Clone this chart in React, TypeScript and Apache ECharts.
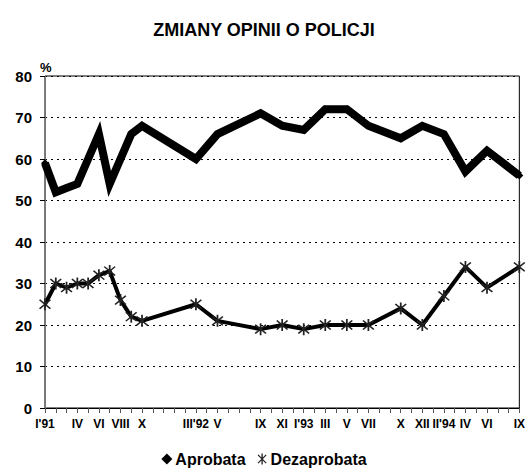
import React, { useEffect, useRef } from "react";
import * as echarts from "echarts";

// Monthly categories, Jan 1991 – Sep 1994
const months: string[] = [
  "1991-01","1991-02","1991-03","1991-04","1991-05","1991-06","1991-07","1991-08","1991-09","1991-10","1991-11","1991-12",
  "1992-01","1992-02","1992-03","1992-04","1992-05","1992-06","1992-07","1992-08","1992-09","1992-10","1992-11","1992-12",
  "1993-01","1993-02","1993-03","1993-04","1993-05","1993-06","1993-07","1993-08","1993-09","1993-10","1993-11","1993-12",
  "1994-01","1994-02","1994-03","1994-04","1994-05","1994-06","1994-07","1994-08","1994-09",
];

const monthLabels: string[] = [
  "I'91","","","IV","","VI","","VIII","","X","","",
  "","","III'92","","V","","","","IX","","XI","",
  "I'93","","III","","V","","VII","","","X","","XII",
  "","II'94","","IV","","VI","","","IX",
];

const aprobata: (number | null)[] = [
  59, 52, 53, 54, 60, 66, 54, 60, 66, 68, null, null,
  null, null, 60, null, 66, null, null, null, 71, null, 68, null,
  67, null, 72, null, 72, null, 68, null, null, 65, null, 68,
  null, 66, null, 57, null, 62, null, null, 56,
];

const dezaprobata: (number | null)[] = [
  25, 30, 29, 30, 30, 32, 33, 26, 22, 21, null, null,
  null, null, 25, null, 21, null, null, null, 19, null, 20, null,
  19, null, 20, null, 20, null, 20, null, null, 24, null, 20,
  null, 27, null, 34, null, 29, null, null, 34,
];

const yTicks = { min: 0, max: 80, interval: 10 };

const asterisk =
  "path://M-0.6,-5L0.6,-5L0.6,5L-0.6,5Z" +
  "M-4.1,-3.3L-3.3,-4.1L4.1,3.3L3.3,4.1Z" +
  "M3.3,-4.1L4.1,-3.3L-3.3,4.1L-4.1,3.3Z";

const FONT = "'Liberation Sans', Arial, sans-serif";

export default function App() {
  const ref = useRef<HTMLDivElement>(null);
  useEffect(() => {
    if (!ref.current) return;
    const chart = echarts.init(ref.current, undefined, { renderer: "svg" });
    chart.setOption({
      animation: false,
      backgroundColor: "#fff",
      title: {
        text: "ZMIANY OPINII O POLICJI",
        left: "center",
        top: 16,
        textStyle: { fontFamily: FONT, fontWeight: "bold", fontSize: 18, color: "#000" },
      },
      legend: {
        bottom: 0,
        left: "center",
        itemWidth: 11,
        itemHeight: 11,
        itemGap: 12,
        textStyle: { fontFamily: FONT, fontWeight: "bold", fontSize: 16, color: "#000", padding: [0, 0, 0, -2] },
        data: [
          { name: "Aprobata", icon: "diamond", itemStyle: { color: "#000" } },
          { name: "Dezaprobata", icon: asterisk, itemStyle: { color: "#222" } },
        ],
      },
      grid: {
        left: 45,
        right: 6,
        top: 76,
        bottom: 64,
        show: true,
        borderColor: "#000",
        borderWidth: 1,
      },
      xAxis: {
        type: "category",
        data: months,
        boundaryGap: false,
        axisLine: { lineStyle: { color: "#000", width: 1 } },
        axisTick: { show: true, interval: 0, length: 5, lineStyle: { color: "#555" } },
        axisLabel: {
          interval: 0,
          margin: 10,
          fontFamily: FONT,
          fontWeight: "bold",
          fontSize: 12,
          color: "#000",
          formatter: (_v: string, i: number) => monthLabels[i],
        },
        splitLine: { show: false },
      },
      yAxis: {
        type: "value",
        min: yTicks.min,
        max: yTicks.max,
        interval: yTicks.interval,
        name: "%",
        nameLocation: "end",
        nameGap: 2,
        nameTextStyle: { fontFamily: FONT, fontWeight: "bold", fontSize: 13, color: "#000", align: "left", padding: [0, 0, 0, -5] },
        axisLine: { show: true, lineStyle: { color: "#777", width: 1 } },
        axisTick: { show: true, length: 5, lineStyle: { color: "#000" } },
        axisLabel: { margin: 13, fontFamily: FONT, fontWeight: "bold", fontSize: 15, color: "#000" },
        splitLine: { show: true, lineStyle: { color: "#000", type: [2, 4], width: 1 } },
      },
      series: [
        {
          name: "Aprobata",
          type: "line",
          data: aprobata,
          connectNulls: true,
          symbol: "diamond",
          symbolSize: 8,
          itemStyle: { color: "#000" },
          lineStyle: { color: "#000", width: 8, join: "miter" },
        },
        {
          name: "Dezaprobata",
          type: "line",
          data: dezaprobata,
          connectNulls: true,
          symbol: asterisk,
          symbolSize: 12,
          itemStyle: { color: "#222" },
          lineStyle: { color: "#000", width: 4 },
        },
      ],
    });
    return () => chart.dispose();
  }, []);
  return (
    <div
      ref={ref}
      style={{ position: "absolute", left: 0, top: 0, width: 528, height: 472 }}
    />
  );
}
